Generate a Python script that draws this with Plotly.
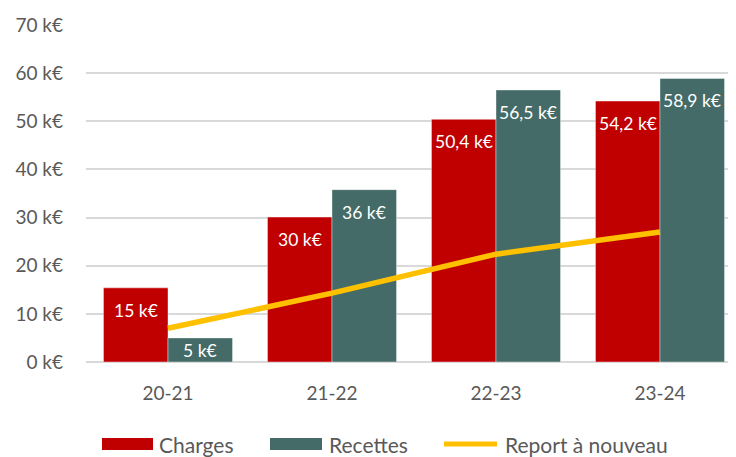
import plotly.graph_objects as go

categories = ["20-21", "21-22", "22-23", "23-24"]
charges = [15.4, 30.1, 50.4, 54.2]
recettes = [5.0, 35.8, 56.5, 58.9]
report = [7.0, 14.3, 22.4, 27.0]
charges_labels = ["15 k€", "30 k€", "50,4 k€", "54,2 k€"]
recettes_labels = ["5 k€", "36 k€", "56,5 k€", "58,9 k€"]
y_ticks = [0, 10, 20, 30, 40, 50, 60, 70]
y_tick_text = ["0 k€", "10 k€", "20 k€", "30 k€", "40 k€", "50 k€", "60 k€", "70 k€"]

RED = "#C00000"
TEAL = "#446B67"
GOLD = "#FFC000"
GREY_TXT = "#595959"
GRID = "#D9D9D9"
FONT = "Lato"

OFF = 8  # page body margin in the browser
W, H = 736 - OFF, 457 - OFF
ML, MR, MT, MB = 86 - OFF, 0, 25 - OFF, 95
plot_w = W - ML - MR
plot_h = H - MT - MB
bargap = 0.213
x_range = [-0.5, 3.5 - 6 / 164]
cat_px = plot_w / (x_range[1] - x_range[0])
bar_w = cat_px * (1 - bargap) / 2
px_per_unit = plot_h / 70

fig = go.Figure()
fig.add_trace(go.Bar(x=categories, y=charges, name="Charges", marker=dict(color=RED, line=dict(color="rgba(255,255,255,0.5)", width=0.8)), showlegend=False))
fig.add_trace(go.Bar(x=categories, y=recettes, name="Recettes", marker=dict(color=TEAL, line=dict(color="rgba(255,255,255,0.5)", width=0.8)), showlegend=False))
fig.add_trace(go.Scatter(x=categories, y=report, name="Report à nouveau", mode="lines", line=dict(color=GOLD, width=5.5), showlegend=False))

annotations = []
for vals, labels, sign in ((charges, charges_labels, -1), (recettes, recettes_labels, 1)):
    for c, v, t in zip(categories, vals, labels):
        if v * px_per_unit < 40:
            annotations.append(dict(x=c, y=v / 2, xref="x", yref="y", text=t, showarrow=False,
                                    xshift=sign * bar_w / 2, yanchor="middle", yshift=-1,
                                    font=dict(family=FONT, size=17.5, color="white")))
        else:
            annotations.append(dict(x=c, y=v, xref="x", yref="y", text=t, showarrow=False,
                                    xshift=sign * bar_w / 2, yanchor="top", yshift=-10,
                                    font=dict(family=FONT, size=17.5, color="white")))

# custom legend (positions given in page pixels)
def px_x(p):
    return (p - OFF - ML) / plot_w

def px_y(p):
    return (H - MB - (p - OFF)) / plot_h

leg_y = 444
shapes = [
    dict(type="rect", xref="paper", yref="paper", x0=px_x(102), x1=px_x(153), y0=px_y(leg_y + 6), y1=px_y(leg_y - 6), fillcolor=RED, line=dict(width=0)),
    dict(type="rect", xref="paper", yref="paper", x0=px_x(270), x1=px_x(322), y0=px_y(leg_y + 6), y1=px_y(leg_y - 6), fillcolor=TEAL, line=dict(width=0)),
    dict(type="line", xref="paper", yref="paper", x0=px_x(444), x1=px_x(497), y0=px_y(leg_y), y1=px_y(leg_y), line=dict(color=GOLD, width=5)),
]
for name, xpx in (("Charges", 157), ("Recettes", 327), ("Report à nouveau", 503)):
    annotations.append(dict(x=px_x(xpx), y=px_y(leg_y), xref="paper", yref="paper", text=name, showarrow=False,
                            xanchor="left", yanchor="middle", font=dict(family=FONT, size=21, color=GREY_TXT)))

fig.update_layout(
    width=W, height=H,
    margin=dict(l=ML, r=MR, t=MT, b=MB, pad=0, autoexpand=False),
    paper_bgcolor="white", plot_bgcolor="white",
    barmode="group", bargap=bargap, bargroupgap=0,
    font=dict(family=FONT, color=GREY_TXT),
    annotations=annotations, shapes=shapes,
    showlegend=False,
)
fig.update_xaxes(range=x_range, showgrid=False, zeroline=False, showline=False, ticks="", automargin=False,
                 ticklabelstandoff=18, tickfont=dict(family=FONT, size=19, color=GREY_TXT))
fig.update_yaxes(range=[0, 70], tickvals=y_ticks, ticktext=y_tick_text, showgrid=True, gridcolor=GRID, gridwidth=1.5,
                 zeroline=True, zerolinecolor=GRID, zerolinewidth=2, showline=False, ticks="", automargin=False,
                 ticklabelstandoff=22, tickfont=dict(family=FONT, size=19, color=GREY_TXT))

fig.write_html("out.html")
